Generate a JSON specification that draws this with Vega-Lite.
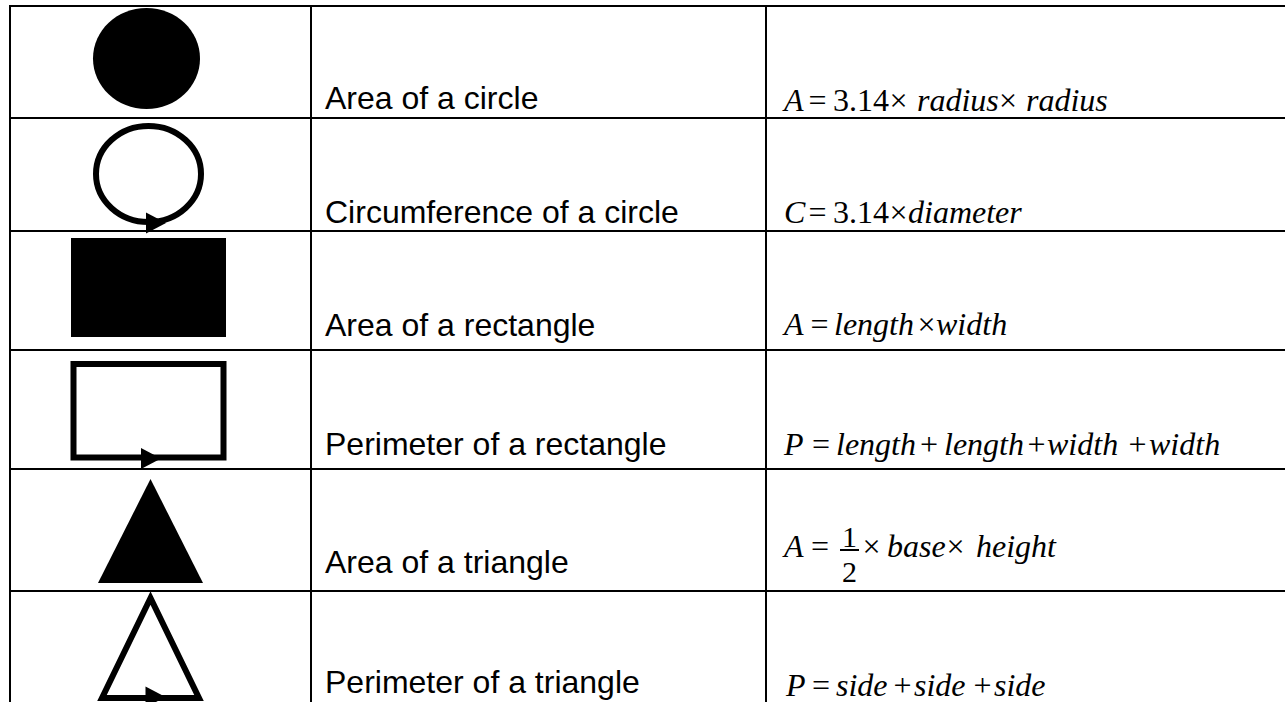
{
  "$schema": "https://vega.github.io/schema/vega-lite/v6.json",
  "width": 1285,
  "height": 702,
  "padding": 0,
  "autosize": {"type": "none"},
  "background": "white",
  "config": {"view": {"stroke": null}},
  "datasets": {
    "lines": [
      {"x": 10, "x2": 1285, "y": 6, "y2": 6},
      {"x": 10, "x2": 1285, "y": 118, "y2": 118},
      {"x": 10, "x2": 1285, "y": 231, "y2": 231},
      {"x": 10, "x2": 1285, "y": 350, "y2": 350},
      {"x": 10, "x2": 1285, "y": 469, "y2": 469},
      {"x": 10, "x2": 1285, "y": 591, "y2": 591},
      {"x": 10, "x2": 10, "y": 5, "y2": 702},
      {"x": 311, "x2": 311, "y": 5, "y2": 702},
      {"x": 766, "x2": 766, "y": 5, "y2": 702},
      {"x": 840, "x2": 859, "y": 550, "y2": 550}
    ],
    "shapes": [
      {"shape": "filled circle", "style": "filled", "x": 146.5, "y": 58.5},
      {"shape": "circle outline", "style": "outline", "x": 148.5, "y": 174},
      {"shape": "arrow", "style": "filled", "x": 156, "y": 223},
      {"shape": "filled rectangle", "style": "filled", "x": 148.5, "y": 287.5},
      {"shape": "rectangle outline", "style": "outline", "x": 148.5, "y": 410.75},
      {"shape": "arrow", "style": "filled", "x": 151, "y": 458.5},
      {"shape": "filled triangle", "style": "filled", "x": 150.5, "y": 531},
      {"shape": "triangle outline", "style": "outline", "x": 150.5, "y": 648},
      {"shape": "arrow", "style": "filled", "x": 155.5, "y": 697}
    ],
    "labels": [
      {"label": "Area of a circle", "x": 325, "y": 109},
      {"label": "Circumference of a circle", "x": 325, "y": 223},
      {"label": "Area of a rectangle", "x": 325, "y": 336},
      {"label": "Perimeter of a rectangle", "x": 325, "y": 455},
      {"label": "Area of a triangle", "x": 325, "y": 573},
      {"label": "Perimeter of a triangle", "x": 325, "y": 693}
    ],
    "formula": [
      {"part": "A", "style": "italic", "x": 784, "y": 111},
      {"part": "=", "style": "operator", "x": 817.5, "y": 111},
      {"part": "3.14", "style": "roman", "x": 833, "y": 111},
      {"part": "×", "style": "operator", "x": 898.5, "y": 111},
      {"part": "radius", "style": "italic", "x": 917, "y": 111},
      {"part": "×", "style": "operator", "x": 1008, "y": 111},
      {"part": "radius", "style": "italic", "x": 1026, "y": 111},

      {"part": "C", "style": "italic", "x": 784, "y": 223},
      {"part": "=", "style": "operator", "x": 817.5, "y": 223},
      {"part": "3.14", "style": "roman", "x": 833, "y": 223},
      {"part": "×", "style": "operator", "x": 898.5, "y": 223},
      {"part": "diameter", "style": "italic", "x": 908, "y": 223},

      {"part": "A", "style": "italic", "x": 784, "y": 335},
      {"part": "=", "style": "operator", "x": 819.5, "y": 335},
      {"part": "length", "style": "italic", "x": 834, "y": 335},
      {"part": "×", "style": "operator", "x": 926.5, "y": 335},
      {"part": "width", "style": "italic", "x": 936, "y": 335},

      {"part": "P", "style": "italic", "x": 784, "y": 455},
      {"part": "=", "style": "operator", "x": 821, "y": 455},
      {"part": "length", "style": "italic", "x": 836, "y": 455},
      {"part": "+", "style": "operator", "x": 929, "y": 455},
      {"part": "length", "style": "italic", "x": 944, "y": 455},
      {"part": "+", "style": "operator", "x": 1036.5, "y": 455},
      {"part": "width", "style": "italic", "x": 1047, "y": 455},
      {"part": "+", "style": "operator", "x": 1137.5, "y": 455},
      {"part": "width", "style": "italic", "x": 1149, "y": 455},

      {"part": "A", "style": "italic", "x": 784, "y": 557},
      {"part": "=", "style": "operator", "x": 820, "y": 557},
      {"part": "1", "style": "fraction", "x": 849.5, "y": 547},
      {"part": "2", "style": "fraction", "x": 849.5, "y": 582},
      {"part": "×", "style": "operator", "x": 871.5, "y": 557},
      {"part": "base", "style": "italic", "x": 887, "y": 557},
      {"part": "×", "style": "operator", "x": 955.5, "y": 557},
      {"part": "height", "style": "italic", "x": 976, "y": 557},

      {"part": "P", "style": "italic", "x": 786, "y": 696},
      {"part": "=", "style": "operator", "x": 821, "y": 696},
      {"part": "side", "style": "italic", "x": 836, "y": 696},
      {"part": "+", "style": "operator", "x": 902.5, "y": 696},
      {"part": "side", "style": "italic", "x": 914, "y": 696},
      {"part": "+", "style": "operator", "x": 982.5, "y": 696},
      {"part": "side", "style": "italic", "x": 994, "y": 696}
    ]
  },
  "layer": [
    {
      "data": {"name": "lines"},
      "mark": {"type": "rule", "color": "black", "strokeWidth": 2},
      "encoding": {
        "x": {"field": "x", "type": "quantitative", "scale": {"domain": [0, 1285], "nice": false, "zero": false}, "axis": null},
        "x2": {"field": "x2"},
        "y": {"field": "y", "type": "quantitative", "scale": {"domain": [0, 702], "nice": false, "zero": false, "reverse": true}, "axis": null},
        "y2": {"field": "y2"}
      }
    },
    {
      "data": {"name": "shapes"},
      "transform": [{"filter": "datum.style == 'outline'"}],
      "mark": {"type": "point", "filled": false, "stroke": "black", "strokeWidth": 6, "strokeJoin": "miter", "strokeMiterLimit": 10, "size": 40000, "opacity": 1},
      "encoding": {
        "x": {"field": "x", "type": "quantitative", "axis": null},
        "y": {"field": "y", "type": "quantitative", "axis": null},
        "shape": {
          "field": "shape", "type": "nominal", "legend": null,
          "scale": {
            "domain": ["filled circle", "circle outline", "filled rectangle", "rectangle outline", "filled triangle", "triangle outline", "arrow"],
            "range": [
              "M-0.535,0C-0.535,-0.279,-0.2955,-0.505,0,-0.505C0.2955,-0.505,0.535,-0.279,0.535,0C0.535,0.279,0.2955,0.505,0,0.505C-0.2955,0.505,-0.535,0.279,-0.535,0Z",
              "M-0.525,0C-0.525,-0.265,-0.29,-0.48,0,-0.48C0.29,-0.48,0.525,-0.265,0.525,0C0.525,0.265,0.29,0.48,0,0.48C-0.29,0.48,-0.525,0.265,-0.525,0Z",
              "M-0.775,-0.495L0.775,-0.495L0.775,0.495L-0.775,0.495Z",
              "M-0.75,-0.4675L0.75,-0.4675L0.75,0.4675L-0.75,0.4675Z",
              "M0,-0.52L0.525,0.52L-0.525,0.52Z",
              "M0,-0.5L0.485,0.5L-0.485,0.5Z",
              "M-0.1,-0.105L0.1,0L-0.1,0.105Z"
            ]
          }
        }
      }
    },
    {
      "data": {"name": "shapes"},
      "transform": [{"filter": "datum.style == 'filled'"}],
      "mark": {"type": "point", "filled": true, "color": "black", "strokeWidth": 0, "size": 40000, "opacity": 1},
      "encoding": {
        "x": {"field": "x", "type": "quantitative", "axis": null},
        "y": {"field": "y", "type": "quantitative", "axis": null},
        "shape": {"field": "shape", "type": "nominal", "legend": null}
      }
    },
    {
      "data": {"name": "labels"},
      "mark": {"type": "text", "font": "Liberation Sans", "fontSize": 32, "align": "left", "baseline": "alphabetic", "color": "black"},
      "encoding": {
        "x": {"field": "x", "type": "quantitative", "axis": null},
        "y": {"field": "y", "type": "quantitative", "axis": null},
        "text": {"field": "label"}
      }
    },
    {
      "data": {"name": "formula"},
      "transform": [{"filter": "datum.style == 'roman'"}],
      "mark": {"type": "text", "font": "Liberation Serif", "fontSize": 32, "align": "left", "baseline": "alphabetic", "color": "black"},
      "encoding": {
        "x": {"field": "x", "type": "quantitative", "axis": null},
        "y": {"field": "y", "type": "quantitative", "axis": null},
        "text": {"field": "part"}
      }
    },
    {
      "data": {"name": "formula"},
      "transform": [{"filter": "datum.style == 'operator'"}],
      "mark": {"type": "text", "font": "Liberation Serif", "fontSize": 32, "align": "center", "baseline": "alphabetic", "color": "black"},
      "encoding": {
        "x": {"field": "x", "type": "quantitative", "axis": null},
        "y": {"field": "y", "type": "quantitative", "axis": null},
        "text": {"field": "part"}
      }
    },
    {
      "data": {"name": "formula"},
      "transform": [{"filter": "datum.style == 'fraction'"}],
      "mark": {"type": "text", "font": "Liberation Serif", "fontSize": 30, "align": "center", "baseline": "alphabetic", "color": "black"},
      "encoding": {
        "x": {"field": "x", "type": "quantitative", "axis": null},
        "y": {"field": "y", "type": "quantitative", "axis": null},
        "text": {"field": "part"}
      }
    },
    {
      "data": {"name": "formula"},
      "transform": [{"filter": "datum.style == 'italic'"}],
      "mark": {"type": "text", "font": "Liberation Serif", "fontStyle": "italic", "fontSize": 32, "align": "left", "baseline": "alphabetic", "color": "black"},
      "encoding": {
        "x": {"field": "x", "type": "quantitative", "axis": null},
        "y": {"field": "y", "type": "quantitative", "axis": null},
        "text": {"field": "part"}
      }
    }
  ]
}
